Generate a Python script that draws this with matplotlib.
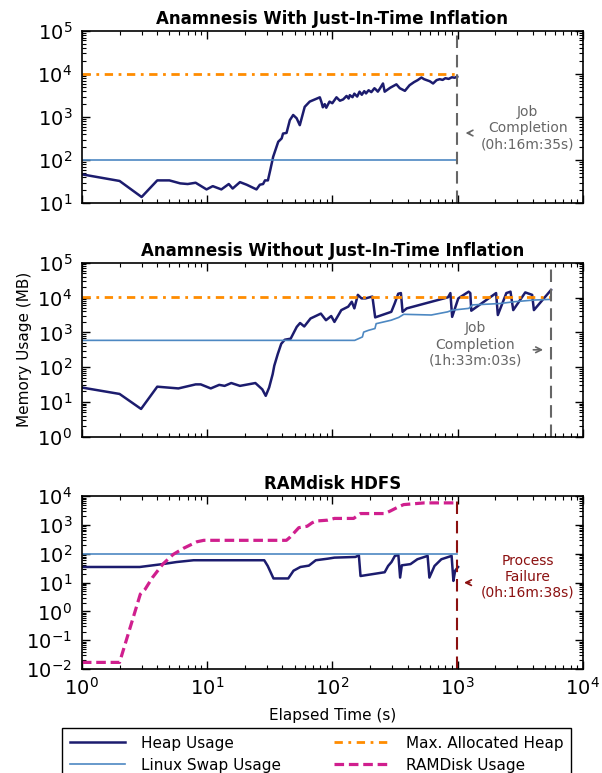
import numpy as np
import matplotlib
matplotlib.use('Agg')
import matplotlib.pyplot as plt

# --- panel 1: anamnesis with JIT inflation ---
t1_heap = [1, 2.0, 3.0, 4.0, 5.0, 6.1, 7.0, 8.1, 9.9, 11.1, 13, 14.9, 16, 18.3, 20.7,
           24.8, 26.4, 28, 29, 30.6, 32, 33.7, 37, 39.4, 40.4, 43.1, 45.8, 48.7, 51.9,
           55, 60.2, 66, 79.5, 82, 84, 87, 89.5, 95, 100, 108, 115, 122, 130, 135, 138,
           145, 150, 158, 165, 172, 180, 186, 195, 205, 217, 224, 231, 240, 254, 262,
           290, 325, 346, 380, 414, 450, 480, 515, 540, 565, 600, 638, 680, 720, 760,
           800, 850, 900, 950, 995]
m1_heap = [47, 33, 14, 34, 34, 29, 28, 30, 21, 25, 21, 28, 22, 31, 27,
           21, 27, 28, 34, 34, 60, 120, 268, 320, 415, 430, 850, 1120, 940,
           650, 1730, 2290, 2880, 2200, 1690, 2000, 1650, 2290, 2100, 2880, 2400, 2570, 3100, 2700, 3230,
           2900, 3500, 3000, 3890, 3300, 4000, 3550, 4200, 3800, 4680, 4300, 3900, 4600, 6030, 3890,
           4800, 5760, 4680, 4070, 5500, 6500, 7200, 8300, 7600, 7240, 6800, 6030, 7200, 7590, 7300,
           8000, 7700, 8400, 8200, 8710]
t1_end = 995
swap1 = 100
maxheap = 10240

# --- panel 2: anamnesis without JIT inflation ---
t2_heap = [1, 2.0, 2.97, 4.0, 5.9, 8.1, 8.9, 10.7, 12.5, 13.8, 15.6, 18.3, 24.3, 27.6, 29.4,
           31.3, 33.4, 34.4, 36.7, 39.1, 41.7, 46.5, 52, 55.3, 59.7, 67, 81, 89, 98, 104,
           118, 134, 143, 150, 160, 171, 184, 209, 220, 296, 315, 336, 353, 364, 393,
           840, 877, 906, 1014, 1227, 1265, 1288, 2032, 2099, 2455, 2649, 2786, 3475,
           3945, 4074, 5583]
m2_heap = [26, 17, 6.3, 27.5, 24.5, 32, 32, 24.5, 31, 29, 35, 29, 35, 23, 15,
           26, 63, 110, 240, 470, 615, 660, 1440, 1860, 1480, 2510, 3470, 2240, 2950, 2000,
           4370, 5500, 7600, 4900, 12000, 9500, 9500, 10700, 2700, 3900, 6800, 12900, 13500, 3900, 4900,
           10200, 13500, 2800, 9500, 14800, 13500, 4200, 13500, 3160, 13500, 14800, 4370, 14100,
           12000, 4370, 16600]
t2_swap = [1, 151, 162, 174, 178, 195, 219, 224, 295, 339, 372, 617, 832, 912, 1230,
           1318, 2188, 2818, 4074, 5583]
m2_swap = [590, 590, 660, 740, 1020, 1150, 1290, 1780, 2240, 2690, 3310, 3160, 3890, 4370, 4900,
           6170, 6760, 7590, 8510, 8910]
t2_end = 5583

# --- panel 3: RAMdisk HDFS ---
t3_heap = [1, 2.9, 4.4, 5.7, 7.8, 28.6, 30.5, 33.9, 44.5, 49, 55.6, 65, 73.8, 92, 104,
           153, 163, 168, 262, 279, 297, 316, 337, 348, 359, 421, 478, 577, 596, 655,
           743, 897, 927, 957, 1010]
m3_heap = [35, 35, 44, 52, 60, 60, 38, 14, 14, 26, 35, 39, 60, 68, 74,
           78, 89, 17, 23, 38, 52, 85, 91, 15, 40, 44, 65, 85, 15, 38,
           65, 85, 11.5, 26, 35]
t3_ram = [1, 2.0, 2.93, 3.2, 3.66, 4.43, 5.35, 6.46, 8.3, 9.4, 43, 46, 54, 59, 63,
          69, 74, 92, 104, 148, 168, 262, 288, 337, 371, 421, 542, 988]
m3_ram = [0.017, 0.017, 4, 5.9, 15, 44, 95, 155, 263, 295, 295, 380, 810, 870, 910,
          1200, 1380, 1480, 1700, 1700, 2510, 2510, 3020, 4270, 5130, 5370, 5890, 5890]
swap3 = 100
t3_end = 998

titles = ['Anamnesis With Just-In-Time Inflation',
          'Anamnesis Without Just-In-Time Inflation',
          'RAMdisk HDFS']

c_heap = '#1c1c6e'
c_swap = '#4d88c2'
c_max = '#ff8c00'
c_ram = '#d01f8e'
c_gray = '#666666'
c_red = '#8b1010'

fig = plt.figure(figsize=(6.02, 7.73), dpi=100)
ax1 = fig.add_axes([0.136, 0.737, 0.832, 0.223])
ax2 = fig.add_axes([0.136, 0.435, 0.832, 0.225])
ax3 = fig.add_axes([0.136, 0.1345, 0.832, 0.2235])

# panel 1
ax1.plot(t1_heap, m1_heap, color=c_heap, lw=1.8, label='Heap Usage')
ax1.plot([1, t1_end], [swap1, swap1], color=c_swap, lw=1.2, label='Linux Swap Usage')
ax1.plot([1, t1_end], [maxheap, maxheap], color=c_max, lw=2, ls=(0, (3, 2, 1, 2)),
         label='Max. Allocated Heap')
ax1.axvline(t1_end, color=c_gray, lw=1.5, ls=(0, (6, 3.3)))
ax1.set_ylim(10, 1e5)
ax1.text(3640, 550, 'Job\nCompletion\n(0h:16m:35s)', color=c_gray, fontsize=10,
         ha='center', va='center')
ax1.annotate('', xy=(1100, 427), xytext=(1320, 427),
             arrowprops=dict(arrowstyle='->', color=c_gray, lw=1.2))

# panel 2
ax2.plot(t2_heap, m2_heap, color=c_heap, lw=1.8)
ax2.plot(t2_swap, m2_swap, color=c_swap, lw=1.2)
ax2.plot([1, t2_end], [maxheap, maxheap], color=c_max, lw=2, ls=(0, (3, 2, 1, 2)))
ax2.axvline(t2_end, color=c_gray, lw=1.5, ls=(0, (6, 3.3)))
ax2.set_ylim(1, 1e5)
ax2.set_ylabel('Memory Usage (MB)', fontsize=11, labelpad=4)
ax2.text(1390, 447, 'Job\nCompletion\n(1h:33m:03s)', color=c_gray, fontsize=10,
         ha='center', va='center')
ax2.annotate('', xy=(5080, 316), xytext=(3830, 316),
             arrowprops=dict(arrowstyle='->', color=c_gray, lw=1.2))

# panel 3
ax3.plot(t3_heap, m3_heap, color=c_heap, lw=1.8)
ax3.plot([1, t3_end], [swap3, swap3], color=c_swap, lw=1.2)
ax3.plot(t3_ram, m3_ram, color=c_ram, lw=2.3, ls=(0, (3, 1.5)), label='RAMDisk Usage')
ax3.axvline(t3_end, color=c_red, lw=1.5, ls=(0, (6, 3.3)))
ax3.set_ylim(0.01, 1e4)
ax3.set_xlabel('Elapsed Time (s)', fontsize=11, labelpad=6)
ax3.text(3630, 16, 'Process\nFailure\n(0h:16m:38s)', color=c_red, fontsize=10,
         ha='center', va='center')
ax3.annotate('', xy=(1070, 10), xytext=(1320, 10),
             arrowprops=dict(arrowstyle='->', color=c_red, lw=1.2))

for ax, ttl in zip([ax1, ax2, ax3], titles):
    ax.set_xscale('log')
    ax.set_yscale('log')
    ax.set_xlim(1, 1e4)
    ax.set_title(ttl, fontsize=12, fontweight='bold', pad=5)
    ax.yaxis.set_major_locator(matplotlib.ticker.LogLocator(base=10, numticks=20))
    ax.yaxis.set_minor_locator(matplotlib.ticker.LogLocator(base=10, subs=np.arange(2, 10), numticks=20))
    ax.tick_params(which='both', direction='in', top=True, right=True, labelsize=14)
    ax.tick_params(which='major', length=6, width=1)
    ax.tick_params(which='minor', length=3, width=0.8)
    ax.tick_params(axis='y', which='major', pad=7)
    ax.tick_params(axis='x', which='major', pad=6)
    for s in ax.spines.values():
        s.set_linewidth(1.2)
for ax in [ax1, ax2]:
    ax.tick_params(labelbottom=False)

handles = [ax1.lines[0], ax1.lines[1], ax1.lines[2], ax3.lines[2]]
labels = ['Heap Usage', 'Linux Swap Usage', 'Max. Allocated Heap', 'RAMDisk Usage']
fig.legend(handles, labels, loc='upper left', ncol=2, fontsize=11,
           bbox_to_anchor=(62 / 602, -0.3, 509 / 602, 0.3 + 45 / 773), mode='expand',
           fancybox=False, edgecolor='black', framealpha=1, handlelength=3.6,
           borderaxespad=0, borderpad=0.5, labelspacing=0.45, handletextpad=1.1)

fig.savefig('out.png', dpi=100)
